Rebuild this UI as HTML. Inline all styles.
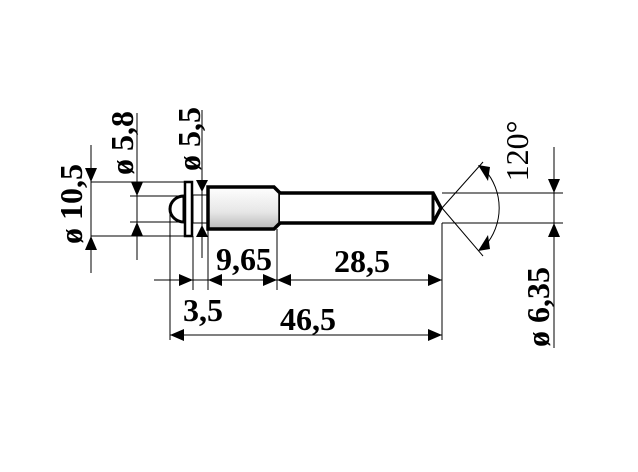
<!DOCTYPE html>
<html><head><style>body{margin:0;background:#fff}svg{display:block}</style></head>
<body>
<svg width="638" height="472" viewBox="0 0 638 472" xmlns="http://www.w3.org/2000/svg">
<defs>
<linearGradient id="g" x1="0" y1="0" x2="0" y2="1">
<stop offset="0" stop-color="#fff"/><stop offset="0.6" stop-color="#e6e6e6"/><stop offset="1" stop-color="#b8b8b8"/>
</linearGradient>
</defs>
<g stroke="#000" stroke-width="1" fill="none">
<line x1="91" y1="145" x2="91" y2="273"/>
<line x1="91" y1="182" x2="186" y2="182"/>
<line x1="91" y1="236" x2="186" y2="236"/>
<line x1="137" y1="113" x2="137" y2="260"/>
<line x1="130" y1="196" x2="180" y2="196"/>
<line x1="130" y1="222" x2="180" y2="222"/>
<line x1="202" y1="110" x2="202" y2="258"/>
<line x1="170" y1="210" x2="170" y2="340"/>
<line x1="193" y1="236" x2="193" y2="290"/>
<line x1="208" y1="229" x2="208" y2="290"/>
<line x1="277" y1="229" x2="277" y2="290"/>
<line x1="442" y1="223" x2="442" y2="340"/>
<line x1="154" y1="280" x2="442" y2="280"/>
<line x1="170" y1="335" x2="442" y2="335"/>
<line x1="442" y1="193" x2="563" y2="193"/>
<line x1="442" y1="223" x2="563" y2="223"/>
<line x1="554" y1="147" x2="554" y2="348"/>
<line x1="442" y1="208" x2="483" y2="162"/>
<line x1="442" y1="208" x2="483" y2="256"/>
<path d="M485,170 A58,58 0 0 1 485,246"/>
<rect x="193" y="195" width="15" height="28"/>
</g>
<path d="M184,196 A14,13 0 0 0 184,222 Z" fill="#fff" stroke="#000" stroke-width="3"/>
<rect x="185" y="182" width="7" height="54" fill="#fff" stroke="#000" stroke-width="2.5"/>
<path d="M208,187 L274,187 L280,193 L280,223 L274,229 L208,229 Z" fill="url(#g)" stroke="#000" stroke-width="3.5"/>
<path d="M280,193 L433,193 L441,208 L433,223 L280,223" fill="#fff" stroke="#000" stroke-width="3.5"/>
<line x1="433" y1="193" x2="433" y2="223" stroke="#000" stroke-width="3"/>
<g fill="#000">
<path d="M91,182 l-6,-14 h12 z"/><path d="M91,236 l-6,14 h12 z"/>
<path d="M137,196 l-6,-14 h12 z"/><path d="M137,222 l-6,14 h12 z"/>
<path d="M202,192 l-6,-12 h12 z"/><path d="M202,225 l-6,12 h12 z"/>
<path d="M193,280 l-14,-6 v12 z"/><path d="M208,280 l14,-6 v12 z"/>
<path d="M277,280 l-14,-6 v12 z"/><path d="M277,280 l14,-6 v12 z"/>
<path d="M442,280 l-14,-6 v12 z"/>
<path d="M170,335 l14,-6 v12 z"/><path d="M442,335 l-14,-6 v12 z"/>
<path d="M554,193 l-6,-14 h12 z"/><path d="M554,223 l-6,14 h12 z"/>
<path d="M478,165 l12,2 -2,14 z"/><path d="M478,251 l12,-2 -2,-14 z"/>
</g>
<g font-family="Liberation Serif, serif" font-weight="bold" font-size="32" fill="#000">
<text x="244" y="270" text-anchor="middle">9,65</text>
<text x="362" y="272" text-anchor="middle">28,5</text>
<text x="203" y="321" text-anchor="middle">3,5</text>
<text x="308" y="330" text-anchor="middle">46,5</text>
<text transform="translate(82,204) rotate(-90)" text-anchor="middle">ø 10,5</text>
<text transform="translate(133,143) rotate(-90)" text-anchor="middle">ø 5,8</text>
<text transform="translate(200,139) rotate(-90)" text-anchor="middle">ø 5,5</text>
<text transform="translate(549,307) rotate(-90)" text-anchor="middle">ø 6,35</text>
<text transform="translate(528,151) rotate(-90)" text-anchor="middle" font-weight="normal">120°</text>
</g>
</svg>
</body></html>
